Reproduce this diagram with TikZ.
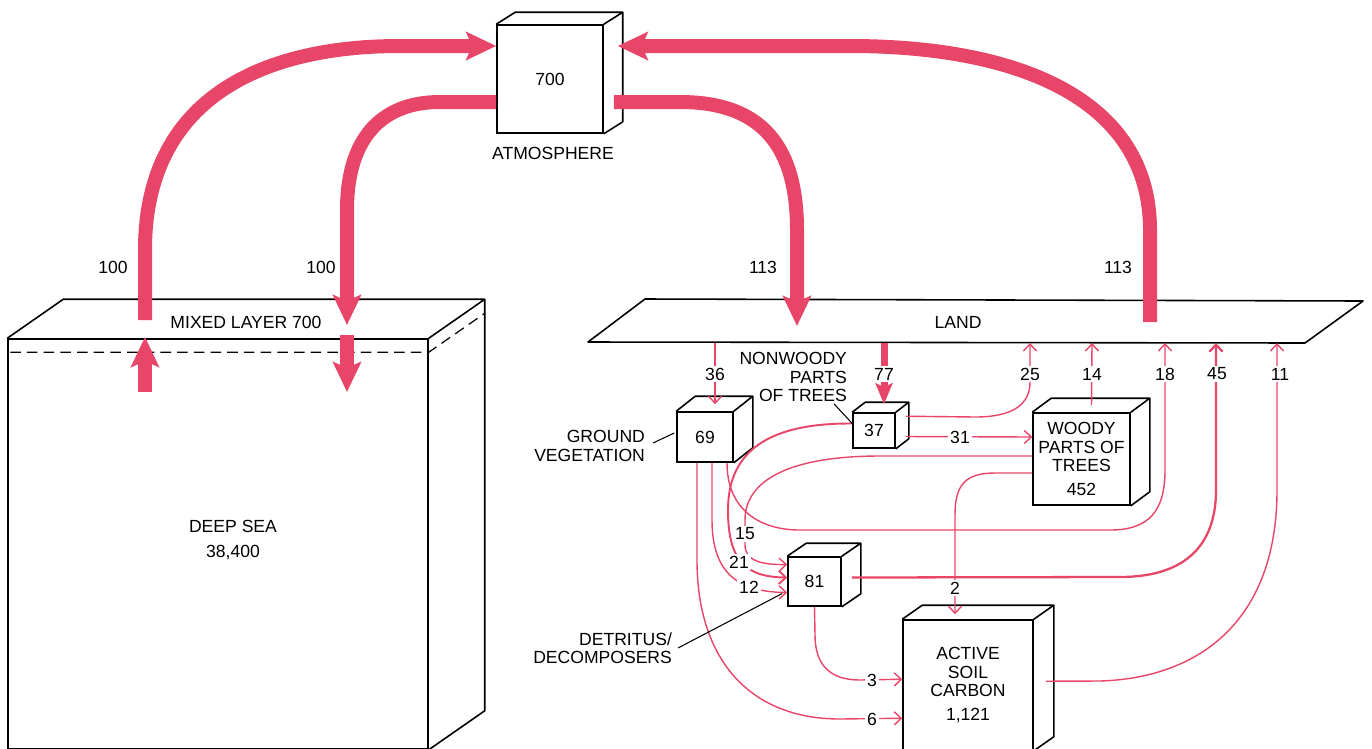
\documentclass[tikz,border=0pt]{standalone}
\usepackage{fontspec}
\setmainfont{Liberation Sans}
\usetikzlibrary{arrows.meta}
\definecolor{flux}{RGB}{232,70,104}

\begin{document}
\begin{tikzpicture}[x=0.02cm, y=-0.02cm,
  every node/.style={font=\fontsize{10}{10.5}\selectfont},
  box/.style={draw, fill=white, line width=0.9pt, inner sep=0pt, align=center},
  edge/.style={line width=0.9pt, line join=round},
  lab/.style={align=center, inner sep=1pt},
  num/.style={fill=white, inner sep=1.2pt},
  lead/.style={line width=0.6pt},
  big/.style={draw=flux, line width=0.28cm, -{Stealth[length=0.6cm,width=0.56cm,inset=0.12cm]}},
  mid/.style={draw=flux, line width=0.14cm, -{Stealth[length=0.42cm,width=0.34cm,inset=0.08cm]}},
  flow/.style={draw=flux, line width=0.8pt, -{Straight Barb[length=4pt,width=7.5pt]}}]
  \useasboundingbox (0,0) rectangle (1372,748);
  \clip (0,0) rectangle (1372,748);

  % reservoirs (front faces)
  \node[box, minimum width=8.4cm, minimum height=8.2cm] (sea) at (218,544) {};
  \node[box, minimum width=2.12cm, minimum height=2.16cm] (atm) at (550,79) {700};
  \node[box, minimum width=1.12cm, minimum height=1.0cm] (gv) at (705,437) {69};
  \node[box, minimum width=0.84cm, minimum height=0.7cm] (nw) at (874,430.5) {37};
  \node[box, minimum width=1.94cm, minimum height=1.84cm] (wd) at (1081.5,459) {WOODY\\PARTS OF\\TREES\\[3pt]452};
  \node[box, minimum width=1.06cm, minimum height=0.98cm] (det) at (814.5,581.5) {81};
  \node[box, minimum width=2.6cm, minimum height=2.6cm] (soil) at (968,685) {ACTIVE\\SOIL\\CARBON\\[3pt]1,121};
  % top and side faces
  \foreach \cb/\dx/\dy in {sea/56/-39, atm/19/-12, gv/19/-15, nw/13/-10, wd/19/-14, det/19/-13, soil/20/-14}
    \draw[edge] (\cb.north west) -- ++(\dx,\dy) -| ([shift={(\dx,\dy)}]\cb.south east) -- (\cb.south east)
      (\cb.north east) -- ++(\dx,\dy);
  \draw[edge, line width=0.7pt, dash pattern=on 6pt off 3.5pt]
    ([shift={(3,14)}]sea.north west) -- ([shift={(0,14)}]sea.north east) -- ++(56,-39);
  \node (mix) at (246,322) {MIXED LAYER 700};
  \node[lab] (seatxt) at (233,540) {DEEP SEA\\[4pt]38,400};
  \node[lab] (atmlab) at (553,153) {ATMOSPHERE};

  % land
  \draw[edge, fill=white] (645,299) -- (1363,301) -- (1305,343) -- (588,342) -- cycle;
  \node (land) at (958,322) {LAND};
  \foreach \k/\x in {36/715, 77/884, 25/1030, 14/1092, 18/1165, 45/1216, 11/1277}
    \coordinate (l\k) at (\x,343);

  % large exchanges
  \coordinate (seaout) at (145,320);
  \coordinate (seain) at (347,325);
  \coordinate (landin) at (797,326);
  \coordinate (landout) at (1150,322);
  \coordinate (mixup) at (145,392);
  \coordinate (mixdn) at (347,335);
  \draw[big] (seaout) -- (145,250) .. controls (145,100) and (260,46) .. (400,46) -- ([shift={(0,-33)}]atm.west);
  \draw[big] ([shift={(0,23)}]atm.west) -- (440,102) .. controls (380,102) and (347,140) .. (347,210) -- (seain);
  \draw[big] ([shift={(10,23)}]atm.east) -- (680,102) .. controls (765,102) and (797,150) .. (797,230) -- (landin);
  \draw[big] (landout) -- (1150,230) .. controls (1150,100) and (1020,46) .. (850,46) -- ([shift={(14,-33)}]atm.east);
  \draw[big] (mixup) -- ++(0,-55);
  \draw[big] (mixdn) -- ++(0,57);
  \node (f1) at (113,267) {100};
  \node (f2) at (321,267) {100};
  \node (f3) at (763,267) {113};
  \node (f4) at (1118,267) {113};

  % land fluxes
  \draw[flow] (l36) -- ([shift={(10,-7)}]gv.north);
  \draw[mid] (l77) -- ([shift={(10,-8)}]nw.north);
  \draw[flow] ([shift={(10,4)}]nw.north east) -- (975,417) .. controls (1012,417) and (1030,405) .. (1030,382) -- (l25);
  \draw[flow] ([shift={(10,6)}]nw.east) -- ([shift={(0,-22)}]wd.west);
  \draw[flow] ([shift={(10,-7)}]wd.north) -- (l14);
  \draw[flow] ([shift={(22,0)}]gv.south) .. controls (727,510) and (760,530) .. (800,530) -- (1110,530)
    .. controls (1150,530) and (1165,510) .. (1165,470) -- (l18);
  \draw[flow, line width=1.3pt] ([shift={(10,-4)}]det.east) -- (1120,577) .. controls (1180,577) and (1216,550) .. (1216,490) -- (l45);
  \draw[flow] ([shift={(12,62)}]soil.north east) -- (1100,681) .. controls (1200,678) and (1277,620) .. (1277,490) -- (l11);
  \draw[flow] ([shift={(0,14)}]wd.west) -- (995,473) .. controls (965,473) and (955,485) .. (955,515)
    -- ([shift={(-13,-5)}]soil.north);
  \draw[flow] ([shift={(0,-3)}]wd.west) -- (880,456) .. controls (790,456) and (745,480) .. (745,520) -- (745,545)
    .. controls (745,560) and (760,565) .. ([shift={(0,-17)}]det.west);
  \draw[flow, line width=1.1pt] ([shift={(0,-7)}]nw.west) .. controls (770,423) and (728,450) .. (728,510)
    .. controls (728,560) and (745,577) .. ([shift={(0,-4)}]det.west);
  \draw[flow] ([shift={(7,0)}]gv.south) -- (712,520) .. controls (712,575) and (740,592) .. ([shift={(0,11)}]det.west);
  \draw[flow] ([shift={(-8,0)}]gv.south) -- (697,560) .. controls (697,660) and (750,719) .. (840,719)
    -- ([shift={(0,99)}]soil.north west);
  \draw[flow] (det.south) -- (815,635) .. controls (815,665) and (830,680) .. (860,680) -- ([shift={(0,60)}]soil.north west);
  \foreach \t/\x/\y in {36/715/374, 77/884/374, 25/1030/374, 14/1092/374, 18/1165/374, 45/1217/374, 11/1280/374,
      31/960/437, 2/955/588, 15/745/534, 21/739/562, 12/749/587, 3/872/680, 6/872/719}
    \node[num] (n\t) at (\x,\y) {\t};

  % pointer labels
  \node[lab, anchor=east, align=right] (nwlab) at (849,377) {NONWOODY\\PARTS\\OF TREES};
  \draw[lead] ([shift={(-15,0)}]nwlab.south east) -- ([shift={(0,-7)}]nw.west);
  \node[lab, anchor=east, align=right] (gvlab) at (647,446) {GROUND\\VEGETATION};
  \draw[lead] ([shift={(6,-3)}]gvlab.east) -- ([shift={(-2,-4)}]gv.west);
  \node[lab, anchor=east, align=right] (detlab) at (674,648) {DETRITUS/\\DECOMPOSERS};
  \draw[lead] ([shift={(4,0)}]detlab.east) -- ([shift={(-5,12)}]det.west);
\end{tikzpicture}
\end{document}
